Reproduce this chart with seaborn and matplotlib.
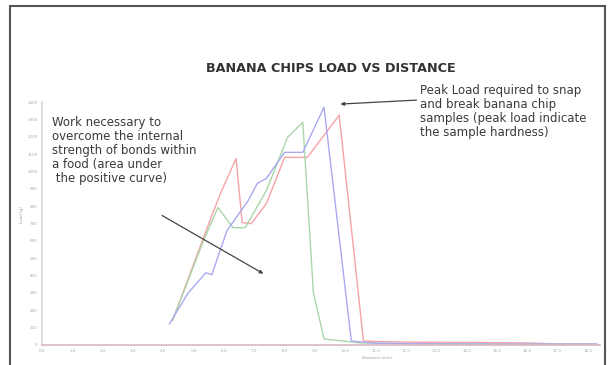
import numpy as np
import pandas as pd
import seaborn as sns
import matplotlib.pyplot as plt
from matplotlib.patches import Rectangle

# distance (mm) and load (g)
red_x = [4.3, 5.6, 5.9, 6.4, 6.6, 6.9, 7.4, 8.0, 8.75, 9.8, 10.6, 11.5, 13.0, 14.5, 16.0, 17.0, 18.3]
red_y = [139, 746, 879, 1075, 705, 699, 815, 1081, 1081, 1324, 23, 18, 15, 14, 12, 6, 5]

green_x = [4.3, 5.3, 5.8, 6.3, 6.7, 7.4, 8.1, 8.6, 8.95, 9.3, 10.5, 12.0, 14.0, 16.0, 18.3]
green_y = [139, 590, 792, 676, 676, 890, 1197, 1283, 300, 35, 12, 8, 6, 5, 5]

blue_x = [4.2, 4.8, 5.4, 5.6, 6.1, 6.8, 7.1, 7.4, 8.0, 8.6, 9.3, 10.2, 11.0, 13.0, 15.0, 18.3]
blue_y = [121, 295, 416, 405, 659, 832, 931, 960, 1110, 1110, 1370, 23, 10, 6, 5, 5]

x_ticks = list(range(0, 19))
x_labels = ['%.1f' % v for v in x_ticks]
y_ticks = list(range(0, 1401, 100))

df = pd.concat([
    pd.DataFrame({'dist': red_x, 'load': red_y, 'sample': 'A'}),
    pd.DataFrame({'dist': green_x, 'load': green_y, 'sample': 'B'}),
    pd.DataFrame({'dist': blue_x, 'load': blue_y, 'sample': 'C'}),
])

sns.set_style('white')
fig = plt.figure(figsize=(6.13, 3.65), dpi=100)
ax = fig.add_axes([42 / 613, 1 - 345 / 365, (600 - 42) / 613, (345 - 102) / 365])

sns.lineplot(data=df, x='dist', y='load', hue='sample', sort=False, estimator=None,
             palette={'A': '#f5a3a8', 'B': '#a9d6a9', 'C': '#a9a9f2'},
             linewidth=1.0, legend=False, ax=ax)

ax.set_xlim(0, 18.4)
ax.set_ylim(0, 1400)
ax.set_xticks(x_ticks)
ax.set_xticklabels(x_labels)
ax.set_yticks(y_ticks)
ax.tick_params(labelsize=3, colors='#aaaaaa', length=1, width=0.5, pad=2)
ax.set_xlabel('')
ax.set_ylabel('')
for side in ['top', 'right']:
    ax.spines[side].set_visible(False)
ax.spines['left'].set_color('#dddddd')
ax.spines['bottom'].set_color('#d8b8c0')
ax.spines['left'].set_linewidth(1.5)
ax.spines['bottom'].set_linewidth(1.2)

fig.text(22 / 613, 1 - 215 / 365, 'Load (g)', rotation=90, fontsize=3, color='#999999',
         ha='center', va='center')
fig.text(377 / 613, 1 - 358 / 365, 'Distance (mm)', fontsize=3, color='#999999',
         ha='center', va='center')

fig.text(331 / 613, 1 - 68 / 365, 'BANANA CHIPS LOAD VS DISTANCE', fontsize=9.2,
         fontweight='bold', color='#333333', ha='center', va='center')

fig.text(52 / 613, 1 - 116 / 365,
         'Work necessary to\novercome the internal\nstrength of bonds within\n'
         'a food (area under\n the positive curve)',
         fontsize=8.5, color='#3a3a3a', ha='left', va='top', linespacing=1.1)
fig.text(420 / 613, 1 - 84 / 365,
         'Peak Load required to snap\nand break banana chip\n'
         'samples (peak load indicate\nthe sample hardness)',
         fontsize=8.5, color='#3a3a3a', ha='left', va='top', linespacing=1.1)

arrow = dict(arrowstyle='-|>', color='#444444', lw=0.9, mutation_scale=5, shrinkA=0, shrinkB=0)
ax.annotate('', xy=(7.3, 411), xytext=(3.96, 746), arrowprops=arrow, annotation_clip=False)
ax.annotate('', xy=(9.84, 1388), xytext=(12.35, 1411), arrowprops=arrow, annotation_clip=False)

# outer chart frame
fig.add_artist(Rectangle((10 / 613, -0.05), (605 - 10) / 613, 1.05 - 6 / 365,
                         transform=fig.transFigure, fill=False, edgecolor='#555555', lw=1.5))

plt.savefig('out.png', dpi=100)
plt.close()
